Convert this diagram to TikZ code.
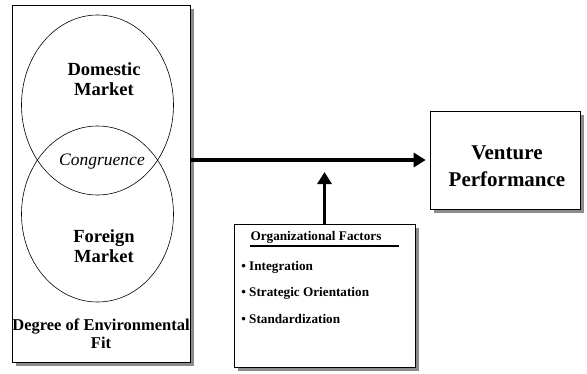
\documentclass[tikz,border=0pt]{standalone}
\usepackage{fontspec}
\setmainfont{Liberation Serif}
\usetikzlibrary{arrows.meta,shapes.geometric,shadows}
\tikzset{shadowed/.style={draw=black,fill=white,
    drop shadow={shadow xshift=4pt,shadow yshift=-4pt,fill=black!45,opacity=1}}}

\begin{document}
\begin{tikzpicture}[x=1pt,y=-1pt,>={Triangle[length=12pt,width=14pt]},semithick]
  \tikzstyle{box}=[shadowed,rectangle,inner sep=0pt]
  \tikzstyle{market}=[ellipse,draw,minimum width=152pt,inner sep=0pt]
  \tikzstyle{label}=[font=\fontsize{18.5}{20}\selectfont\bfseries,align=center]
  \tikzstyle{factor}=[font=\fontsize{13.2}{15}\selectfont\bfseries,anchor=west,inner sep=0pt]
  \tikzstyle{flow}=[->,line width=3.5pt]

  \useasboundingbox (0,0) rectangle (587,373);

  \node[box,minimum width=178pt,minimum height=357pt] (env)     at (101,183.5) {};
  \node[market,minimum height=180pt]                  (dom)     at (97.5,105)  {};
  \node[market,minimum height=176pt]                  (for)     at (97.5,214)  {};
  \node[label]                                        (domtext) at (104,79)    {Domestic\\Market};
  \node[font=\fontsize{17.5}{18}\selectfont\itshape]  (congr)   at (102,162)   {Congruence};
  \node[label]                                        (fortext) at (104,246)   {Foreign\\Market};
  \node[label,font=\fontsize{16.5}{18}\selectfont\bfseries] (fit) at (101,334) {Degree of Environmental\\Fit};

  \node[box,minimum width=150pt,minimum height=98pt]  (venture) at (505,160)   {};
  \node[label,font=\fontsize{21}{27}\selectfont\bfseries] (venttext) at (507,166) {Venture\\Performance};

  \node[box,minimum width=181pt,minimum height=143pt] (factors) at (324.5,295.5) {};
  \node[factor,anchor=center]                         (title)   at (316,237)   {Organizational Factors};
  \node[factor]                                       (integ)   at (241,267)   {\textbullet\ Integration};
  \node[factor]                                       (strat)   at (241,293)   {\textbullet\ Strategic Orientation};
  \node[factor]                                       (stand)   at (241,319)   {\textbullet\ Standardization};
  \draw[line width=1.5pt] (250,246) -- (399,246);

  \coordinate (join) at (factors.north |- venture.west);
  \draw[flow,shorten >=4pt]  (env.east |- venture.west) -- (venture.west);
  \draw[flow,shorten >=12pt] (factors.north) -- (join);
\end{tikzpicture}
\end{document}
